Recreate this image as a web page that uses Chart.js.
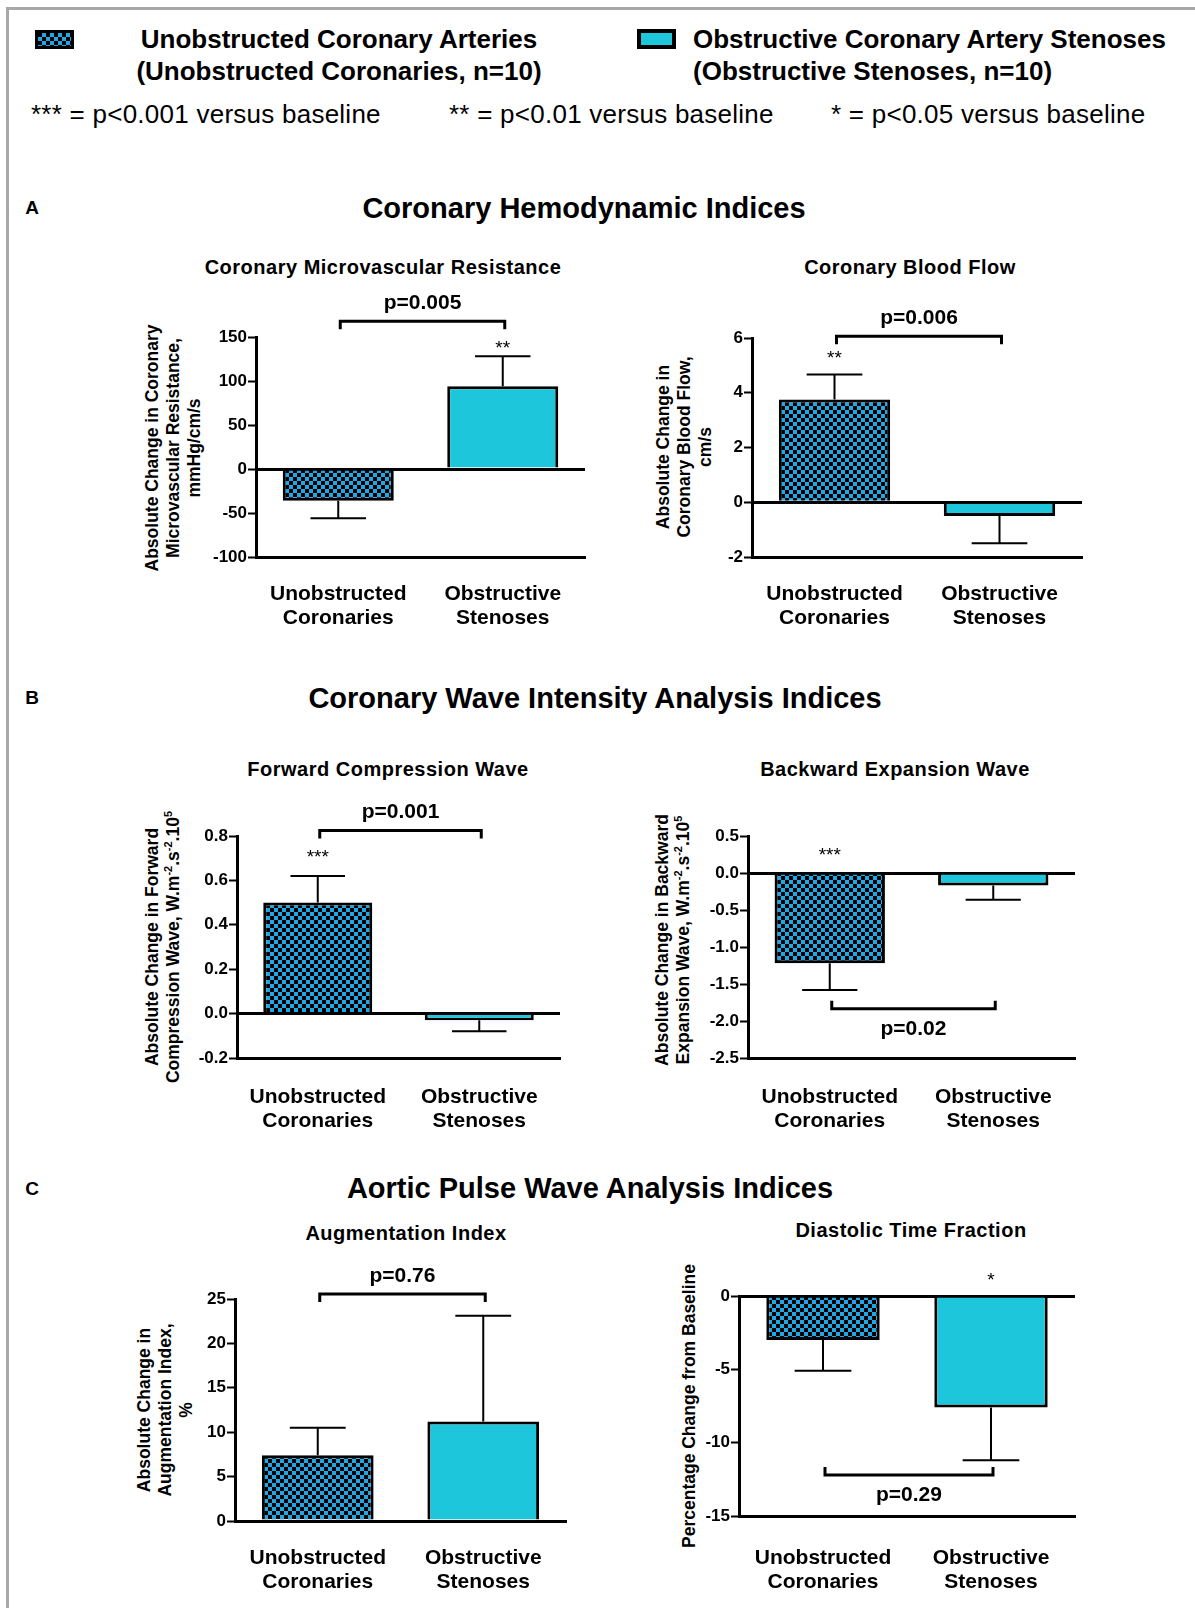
<!DOCTYPE html>
<html>
<head>
<meta charset="utf-8">
<script src="https://cdn.jsdelivr.net/npm/chart.js@4.4.1/dist/chart.umd.min.js"></script>
<style>
  body { margin: 0; width: 1195px; height: 1608px; position: relative; overflow: hidden; background: #fff;
         font-family: "Liberation Sans", Arial, sans-serif; color: #000; }
  .frame { position: absolute; left: 6px; top: 7px; width: 1300px; height: 1700px;
           border-top: 3px solid #a8a8a8; border-left: 3px solid #a8a8a8; }
  .c { position: absolute; white-space: nowrap; transform: translate(-50%, -50%); font-weight: bold; }
  .l { position: absolute; white-space: nowrap; transform: translateY(-50%); }
  .leg { font-size: 26px; font-weight: bold; }
  .stat { font-size: 26px; letter-spacing: 0.25px; }
  .sec { font-size: 29px; }
  .letter { font-size: 19px; }
  .ct { font-size: 20px; letter-spacing: 0.5px; }
  .yt { position: absolute; white-space: nowrap; text-align: center; font-weight: bold; font-size: 17.5px;
        line-height: 21px; transform: translate(-50%, -50%) rotate(-90deg); }
  .yt sup { font-size: 11px; line-height: 0; }
  .ico1 { position: absolute; left: 35px; top: 30px; width: 33px; height: 13px; border: 3px solid #000;
          background: repeating-conic-gradient(#1fa8e6 0 25%, #000 0 50%) 0 0 / 8px 8px; }
  .ico2 { position: absolute; left: 637px; top: 29px; width: 31px; height: 12px; border: 4px solid #000; background: #1ec6dc; }
  canvas { position: absolute; }
</style>
</head>
<body>
<div class="frame"></div>

<div class="ico1"></div>
<div class="c leg" style="left:339px;top:39px">Unobstructed Coronary Arteries</div>
<div class="c leg" style="left:339px;top:71px">(Unobstructed Coronaries, n=10)</div>
<div class="ico2"></div>
<div class="l leg" style="left:693px;top:39px">Obstructive Coronary Artery Stenoses</div>
<div class="l leg" style="left:693px;top:71px">(Obstructive Stenoses, n=10)</div>
<div class="l stat" style="left:31px;top:114px">*** = p&lt;0.001 versus baseline</div>
<div class="l stat" style="left:449px;top:114px">** = p&lt;0.01 versus baseline</div>
<div class="l stat" style="left:831px;top:114px">* = p&lt;0.05 versus baseline</div>

<div class="c letter" style="left:32px;top:208px">A</div>
<div class="c sec" style="left:584px;top:208px">Coronary Hemodynamic Indices</div>
<div class="c letter" style="left:32px;top:698px">B</div>
<div class="c sec" style="left:595px;top:698px">Coronary Wave Intensity Analysis Indices</div>
<div class="c letter" style="left:32px;top:1189px">C</div>
<div class="c sec" style="left:590px;top:1188px">Aortic Pulse Wave Analysis Indices</div>

<div class="c ct" style="left:383px;top:267px">Coronary Microvascular Resistance</div>
<div class="c ct" style="left:910px;top:267px">Coronary Blood Flow</div>
<div class="c ct" style="left:388px;top:769px">Forward Compression Wave</div>
<div class="c ct" style="left:895px;top:769px">Backward Expansion Wave</div>
<div class="c ct" style="left:406px;top:1233px">Augmentation Index</div>
<div class="c ct" style="left:911px;top:1230px">Diastolic Time Fraction</div>

<div class="yt" style="left:173px;top:448px">Absolute Change in Coronary<br>Microvascular Resistance,<br>mmHg/cm/s</div>
<div class="yt" style="left:684px;top:447px">Absolute Change in<br>Coronary Blood Flow,<br>cm/s</div>
<div class="yt" style="left:163px;top:947px">Absolute Change in Forward<br>Compression Wave, W.m<sup>-2</sup>.s<sup>-2</sup>.10<sup>5</sup></div>
<div class="yt" style="left:673px;top:940px">Absolute Change in Backward<br>Expansion Wave, W.m<sup>-2</sup>.s<sup>-2</sup>.10<sup>5</sup></div>
<div class="yt" style="left:165px;top:1410px">Absolute Change in<br>Augmentation Index,<br>%</div>
<div class="yt" style="left:689px;top:1406px">Percentage Change from Baseline</div>

<script>
// ---- data ----
const categories = [["Unobstructed", "Coronaries"], ["Obstructive", "Stenoses"]];

const cmrMeans = [-36, 94];
const cmrSem = [20, 34];
const cmrTicks = [-100, -50, 0, 50, 100, 150];
const cmrStars = ["", "**"];

const cbfMeans = [3.75, -0.5];
const cbfSem = [0.92, 1.0];
const cbfTicks = [-2, 0, 2, 4, 6];
const cbfStars = ["**", ""];

const fcwMeans = [0.50, -0.03];
const fcwSem = [0.12, 0.05];
const fcwTicks = [-0.2, 0, 0.2, 0.4, 0.6, 0.8];
const fcwStars = ["***", ""];

const bewMeans = [-1.22, -0.17];
const bewSem = [0.36, 0.19];
const bewTicks = [-2.5, -2, -1.5, -1, -0.5, 0, 0.5];
const bewStars = ["***", ""];

const aixMeans = [7.4, 11.2];
const aixSem = [3.1, 11.9];
const aixTicks = [0, 5, 10, 15, 20, 25];
const aixStars = ["", ""];

const dtfMeans = [-3.0, -7.6];
const dtfSem = [2.1, 3.6];
const dtfTicks = [-15, -10, -5, 0];
const dtfStars = ["", "*"];

const pValues = ["p=0.005", "p=0.006", "p=0.001", "p=0.02", "p=0.76", "p=0.29"];

// ---- layout ----
const FONT = "'Liberation Sans', Arial, sans-serif";
const M = { left: 75, right: 20, top: 80, bottom: 90 };
Chart.defaults.font.family = FONT;
Chart.defaults.color = "#000";

// checkered fill for the unobstructed group
function checker() {
  const c = document.createElement("canvas");
  c.width = 8; c.height = 8;
  const g = c.getContext("2d");
  g.fillStyle = "#000"; g.fillRect(0, 0, 8, 8);
  g.fillStyle = "#1fa8e6"; g.fillRect(0, 0, 4, 4); g.fillRect(4, 4, 4, 4);
  return g.createPattern(c, "repeat");
}
const CHECK = checker();
const CYAN = "#1ec6dc";

/* error bars, asterisks and the p-value bracket */
const annotate = {
  id: "annotate",
  afterDatasetsDraw(chart, args, o) {
    const { ctx } = chart;
    const y = chart.scales.y;
    const bars = chart.getDatasetMeta(0).data;
    ctx.save();
    ctx.strokeStyle = "#000";
    ctx.fillStyle = "#000";
    bars.forEach((bar, i) => {
      const m = o.means[i];
      const tip = m + Math.sign(m) * o.sem[i];
      const y0 = y.getPixelForValue(m), y1 = y.getPixelForValue(tip);
      const half = bar.width / 4;
      ctx.lineWidth = 2;
      ctx.beginPath();
      ctx.moveTo(bar.x, y0); ctx.lineTo(bar.x, y1);
      ctx.moveTo(bar.x - half, y1); ctx.lineTo(bar.x + half, y1);
      ctx.stroke();
      if (o.stars[i]) {
        ctx.font = "19px " + FONT;
        ctx.textAlign = "center";
        ctx.textBaseline = "alphabetic";
        ctx.fillText(o.stars[i], bar.x, y.getPixelForValue(o.starAt) + 11);
      }
    });
    // bracket
    const x1 = bars[0].x + 2, x2 = bars[1].x + 2;
    const yb = y.getPixelForValue(o.bracketAt);
    const d = o.below ? -8 : 8;
    ctx.lineWidth = 3;
    ctx.lineJoin = "miter";
    ctx.beginPath();
    ctx.moveTo(x1, yb + d); ctx.lineTo(x1, yb); ctx.lineTo(x2, yb); ctx.lineTo(x2, yb + d);
    ctx.stroke();
    ctx.font = "bold 21px " + FONT;
    ctx.textAlign = "center";
    ctx.textBaseline = "middle";
    ctx.fillText(o.p, (x1 + x2) / 2, o.below ? yb + 20 : yb - 18);
    ctx.restore();
  },
};

const panels = [
  { means: cmrMeans, sem: cmrSem, ticks: cmrTicks, stars: cmrStars, dec: 0, starAt: 143.5, bracketAt: 168, below: false, p: pValues[0], box: { l: 256, r: 585, t: 337, b: 557 }, gap: 29 },
  { means: cbfMeans, sem: cbfSem, ticks: cbfTicks, stars: cbfStars, dec: 0, starAt: 5.44, bracketAt: 6.06, below: false, p: pValues[1], box: { l: 752, r: 1082, t: 338, b: 557 }, gap: 29 },
  { means: fcwMeans, sem: fcwSem, ticks: fcwTicks, stars: fcwStars, dec: 1, starAt: 0.73, bracketAt: 0.825, below: false, p: pValues[2], box: { l: 237, r: 560, t: 836, b: 1058 }, gap: 31 },
  { means: bewMeans, sem: bewSem, ticks: bewTicks, stars: bewStars, dec: 1, starAt: 0.31, bracketAt: -1.835, below: true, p: pValues[3], box: { l: 748, r: 1075, t: 836, b: 1058 }, gap: 31 },
  { means: aixMeans, sem: aixSem, ticks: aixTicks, stars: aixStars, dec: 0, starAt: 24, bracketAt: 25.56, below: false, p: pValues[4], box: { l: 235, r: 566, t: 1299, b: 1521 }, gap: 29 },
  { means: dtfMeans, sem: dtfSem, ticks: dtfTicks, stars: dtfStars, dec: 0, starAt: 1.43, bracketAt: -12.2, below: true, p: pValues[5], box: { l: 739, r: 1075, t: 1296, b: 1516 }, gap: 34 },
];

panels.forEach((p) => {
  const cv = document.createElement("canvas");
  const w = p.box.r - p.box.l + M.left + M.right;
  const h = p.box.b - p.box.t + M.top + M.bottom;
  cv.width = w; cv.height = h;
  cv.style.left = p.box.l - M.left + "px";
  cv.style.top = p.box.t - M.top + "px";
  cv.style.width = w + "px"; cv.style.height = h + "px";
  document.body.appendChild(cv);

  new Chart(cv, {
    type: "bar",
    data: {
      labels: categories,
      datasets: [{
        data: p.means,
        backgroundColor: [CHECK, CYAN],
        borderColor: "#000",
        borderWidth: 3,
        borderSkipped: "start",
        barPercentage: 0.675,
        categoryPercentage: 1,
      }],
    },
    options: {
      responsive: false,
      animation: false,
      devicePixelRatio: 1,
      layout: { padding: { top: M.top, right: M.right, left: 0, bottom: 0 } },
      plugins: {
        legend: { display: false },
        tooltip: { enabled: false },
        annotate: p,
      },
      scales: {
        x: {
          offset: true,
          grid: { display: false },
          border: { display: true, color: "#000", width: 3 },
          ticks: {
            color: "#000",
            font: { size: 21, weight: "bold", lineHeight: 1.17 },
            padding: p.gap - 12.3,
            maxRotation: 0,
            autoSkip: false,
          },
          afterFit(s) { s.height = M.bottom; },
        },
        y: {
          min: p.ticks[0],
          max: p.ticks[p.ticks.length - 1],
          afterBuildTicks(s) { s.ticks = p.ticks.map((v) => ({ value: v })); },
          afterFit(s) { s.width = M.left; },
          border: { color: "#000", width: 3 },
          grid: {
            color: (c) => (c.tick && Math.abs(c.tick.value) < 1e-9 ? "#000" : "rgba(0,0,0,0)"),
            lineWidth: 3,
            tickColor: "#000",
            tickWidth: 2,
            tickLength: 8,
          },
          ticks: {
            color: "#000",
            font: { size: 17, weight: "bold" },
            padding: 1,
            callback: (v) => Number(v).toFixed(p.dec),
          },
        },
      },
    },
    plugins: [annotate],
  });
});
</script>
</body>
</html>
